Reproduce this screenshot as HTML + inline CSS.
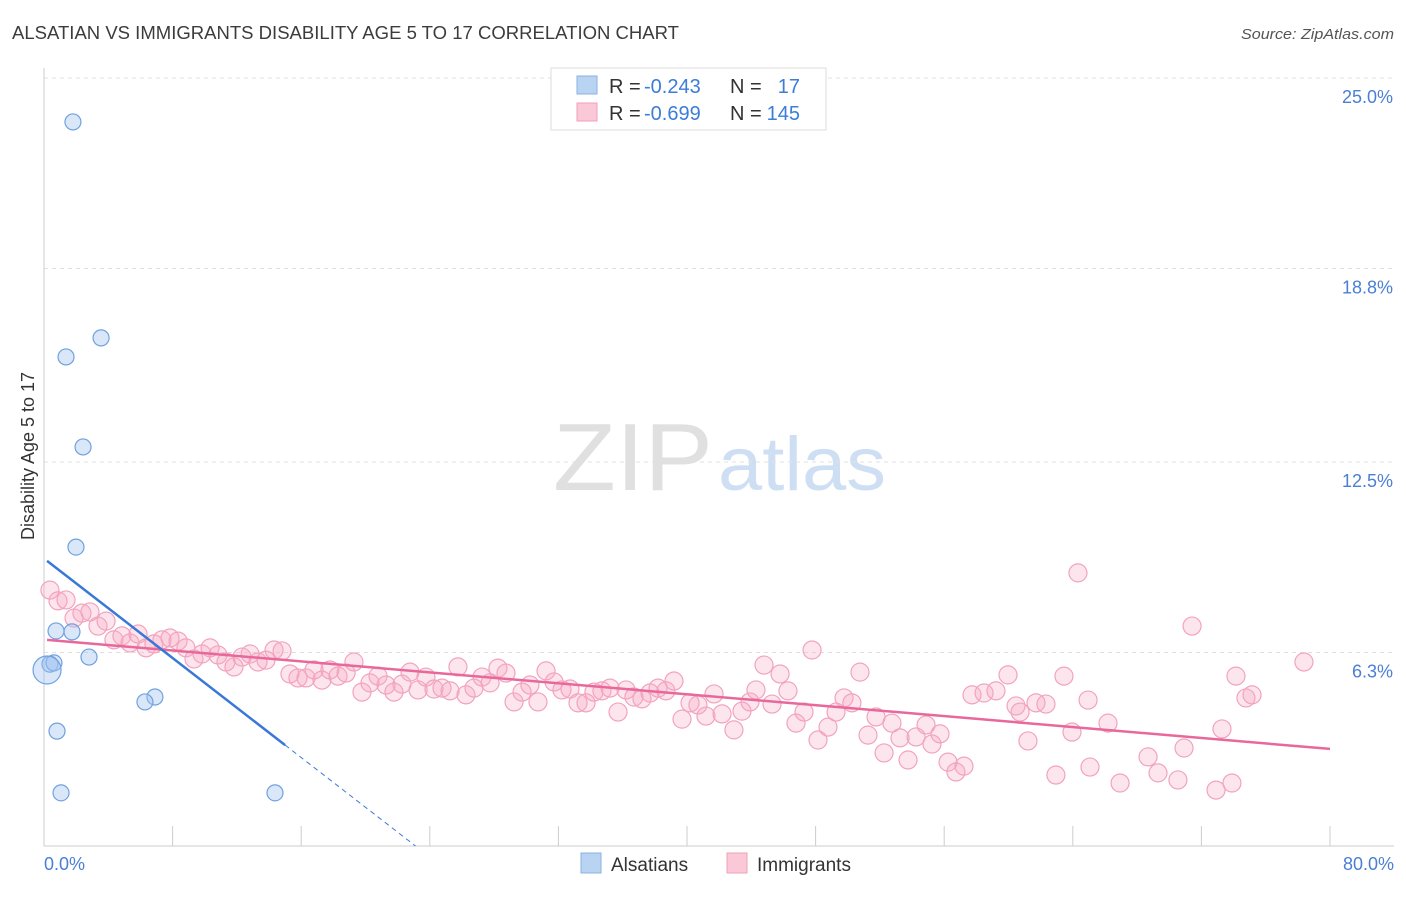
<!DOCTYPE html>
<html><head><meta charset="utf-8"><style>
body{margin:0;background:#fff;font-family:"Liberation Sans",sans-serif;}
svg text{font-family:"Liberation Sans",sans-serif;}
</style></head><body>
<svg id="chart" width="1406" height="892" xmlns="http://www.w3.org/2000/svg">
<text x="12" y="39" font-size="18" fill="#3c3c3c" textLength="667" lengthAdjust="spacingAndGlyphs">ALSATIAN VS IMMIGRANTS DISABILITY AGE 5 TO 17 CORRELATION CHART</text>
<text x="1394" y="39" font-size="15" fill="#555" text-anchor="end" font-style="italic" textLength="153" lengthAdjust="spacingAndGlyphs">Source: ZipAtlas.com</text>
<g>
<text x="553" y="490" font-size="96" fill="#e0e0e0" font-family="Liberation Serif,serif" textLength="160" lengthAdjust="spacingAndGlyphs">ZIP</text>
<text x="718" y="490" font-size="76" fill="#cfdff3" textLength="168" lengthAdjust="spacingAndGlyphs">atlas</text>
</g>
<g id="grid"></g>
<g id="axes"></g>
<g id="marks"></g>
<g>
<rect x="551" y="68" width="275" height="62" fill="#fff" stroke="#ddd"/>
<rect x="577" y="76" width="20" height="18" fill="#b9d3f3" stroke="#8ab2e6"/>
<text x="609" y="93" font-size="20" fill="#333">R =</text>
<text x="644" y="93" font-size="20" fill="#3b7dd8">-0.243</text>
<text x="730" y="93" font-size="20" fill="#333">N =</text>
<text x="800" y="93" font-size="20" fill="#3b7dd8" text-anchor="end">17</text>
<rect x="577" y="103" width="20" height="18" fill="#fac8d7" stroke="#f0a0bb"/>
<text x="609" y="120" font-size="20" fill="#333">R =</text>
<text x="644" y="120" font-size="20" fill="#3b7dd8">-0.699</text>
<text x="730" y="120" font-size="20" fill="#333">N =</text>
<text x="800" y="120" font-size="20" fill="#3b7dd8" text-anchor="end">145</text>
</g>
<g>
<rect x="581" y="853" width="20" height="20" fill="#b9d3f3" stroke="#8ab2e6"/>
<text x="611" y="871" font-size="19" fill="#333">Alsatians</text>
<rect x="727" y="853" width="20" height="20" fill="#fac8d7" stroke="#f0a0bb"/>
<text x="757" y="871" font-size="19" fill="#333">Immigrants</text>
</g>
<text transform="translate(34,456) rotate(-90)" font-size="18" fill="#333" text-anchor="middle">Disability Age 5 to 17</text>
</svg>
<script>
const yTicks=[6.3,12.5,18.8,25.0];
const yTickLabels=["6.3%","12.5%","18.8%","25.0%"];
const xTickLabels=["0.0%","80.0%"];
const alsatians=[[1.8,23.57],[1.37,15.92],[3.55,16.54],[2.43,12.99],[1.99,9.73],[0.75,7.0],[1.74,6.97],[2.8,6.15],[0.37,5.92],[0.62,5.96],[0.19,5.73],[6.9,4.85],[6.28,4.69],[0.81,3.74],[1.06,1.73],[14.37,1.73]];
const immigrants=[[0.37,8.33],[0.87,7.98],[1.37,8.01],[1.87,7.42],[2.36,7.58],[2.86,7.62],[3.36,7.16],[3.86,7.32],[4.35,6.71],[4.85,6.84],[5.35,6.61],[5.85,6.9],[6.35,6.45],[6.84,6.58],[7.34,6.71],[7.84,6.77],[8.34,6.67],[8.83,6.45],[9.33,6.09],[9.83,6.25],[10.33,6.45],[10.82,6.22],[11.32,5.99],[11.82,5.83],[12.32,6.15],[12.82,6.25],[13.31,5.99],[13.81,6.05],[14.31,6.38],[14.81,6.35],[15.3,5.6],[15.8,5.47],[16.3,5.47],[16.8,5.73],[17.29,5.4],[17.79,5.73],[18.29,5.53],[18.79,5.63],[19.28,5.99],[19.78,5.01],[20.28,5.31],[20.78,5.53],[21.28,5.24],[21.77,5.01],[22.27,5.27],[22.77,5.66],[23.27,5.08],[23.76,5.5],[24.26,5.11],[24.76,5.14],[25.26,5.05],[25.75,5.83],[26.25,4.92],[26.75,5.14],[27.25,5.5],[27.75,5.31],[28.24,5.79],[28.74,5.63],[29.24,4.69],[29.74,5.01],[30.23,5.24],[30.73,4.69],[31.23,5.7],[31.73,5.34],[32.22,5.08],[32.72,5.11],[33.22,4.66],[33.72,4.66],[34.21,5.01],[34.71,5.05],[35.21,5.14],[35.71,4.36],[36.21,5.08],[36.7,4.85],[37.2,4.79],[37.7,4.98],[38.2,5.14],[38.69,5.05],[39.19,5.37],[39.69,4.13],[40.19,4.66],[40.68,4.59],[41.18,4.23],[41.68,4.95],[42.18,4.3],[42.92,3.78],[43.42,4.39],[43.92,4.69],[44.29,5.08],[44.79,5.89],[45.29,4.62],[45.79,5.6],[46.28,5.05],[46.78,4.0],[47.28,4.36],[47.78,6.38],[48.15,3.45],[48.77,3.87],[49.27,4.36],[49.77,4.82],[50.26,4.66],[50.76,5.66],[51.26,3.61],[51.76,4.2],[52.26,3.03],[52.75,4.0],[53.25,3.52],[53.75,2.8],[54.25,3.55],[54.87,3.94],[55.24,3.32],[55.74,3.65],[56.24,2.73],[56.73,2.41],[57.23,2.6],[57.73,4.92],[58.48,4.98],[59.22,5.05],[59.97,5.57],[60.47,4.56],[60.72,4.36],[61.21,3.42],[61.71,4.66],[62.33,4.62],[62.95,2.31],[63.45,5.53],[63.95,3.71],[64.32,8.89],[64.95,4.75],[65.07,2.57],[66.19,4.0],[66.94,2.05],[68.68,2.9],[69.3,2.38],[70.54,2.15],[70.92,3.19],[71.42,7.16],[72.91,1.82],[73.28,3.81],[73.9,2.05],[74.15,5.53],[74.77,4.82],[75.15,4.92],[78.38,5.99]];
const blueFit=[9.36,-0.405];
const pinkFit=[6.72,-0.0445];
const NS="http://www.w3.org/2000/svg";
const X0=44,X1=1330,Y0=846,Y1=78;
function xs(v){return X0+(X1-X0)*v/80;}
function ys(v){return Y0-(Y0-Y1)*v/25;}
function mk(tag,attrs,parent){const e=document.createElementNS(NS,tag);for(const k in attrs)e.setAttribute(k,attrs[k]);parent.appendChild(e);return e;}
const grid=document.getElementById('grid'),axes=document.getElementById('axes'),marks=document.getElementById('marks');
yTicks.forEach((t,i)=>{
 const l=mk('line',{x1:44,x2:1394,y1:ys(t),y2:ys(t),stroke:'#e0e0e0','stroke-dasharray':'4,4'},grid);
 
 
 const tx=mk('text',{x:1393,y:ys(t)+25,'font-size':18,fill:'#4a7fd4','text-anchor':'end'},axes);
 tx.textContent=yTickLabels[i];
 
 
});
const ax=mk('line',{x1:44,x2:1394,y1:846,y2:846,stroke:'#ccc'},axes);


const ay=mk('line',{x1:44,x2:44,y1:68,y2:846,stroke:'#ccc'},axes);


for(let i=0;i<=10;i++){
 const t=mk('line',{x1:xs(i*8),x2:xs(i*8),y1:826,y2:846,stroke:'#ccc'},axes);
 
 
}
[[0,44,'start'],[80,1394,'end']].forEach((d,i)=>{
 const tx=mk('text',{x:d[1],y:870,'font-size':18,fill:'#4a7fd4','text-anchor':d[2]},axes);
 tx.textContent=xTickLabels[i];
 
 
});
immigrants.forEach(p=>{
 const c=mk('circle',{cx:xs(p[0]),cy:ys(p[1]),r:9,fill:'rgba(248,168,195,0.3)',stroke:'#f2a3bd','stroke-width':1.2},marks);
 
 
});
alsatians.forEach((p,i)=>{
 const c=mk('circle',{cx:xs(p[0]),cy:ys(p[1]),r:i==10?14:8,fill:'rgba(160,195,240,0.4)',stroke:'#6fa1df','stroke-width':1.2},marks);
 
 
});
const pl=mk('line',{x1:xs(0.19),y1:ys(pinkFit[0]+pinkFit[1]*0.19),x2:xs(80),y2:ys(pinkFit[0]+pinkFit[1]*80),stroke:'#e8689a','stroke-width':2.5},marks);


const bl=mk('line',{x1:xs(0.19),y1:ys(blueFit[0]+blueFit[1]*0.19),x2:xs(15),y2:ys(blueFit[0]+blueFit[1]*15),stroke:'#3a78d8','stroke-width':2.5},marks);


const xe=-blueFit[0]/blueFit[1];
const bd=mk('line',{x1:xs(15),y1:ys(blueFit[0]+blueFit[1]*15),x2:xs(xe),y2:ys(0),stroke:'#3a78d8','stroke-width':1,'stroke-dasharray':'5,4'},marks);


</script>
</body></html>
